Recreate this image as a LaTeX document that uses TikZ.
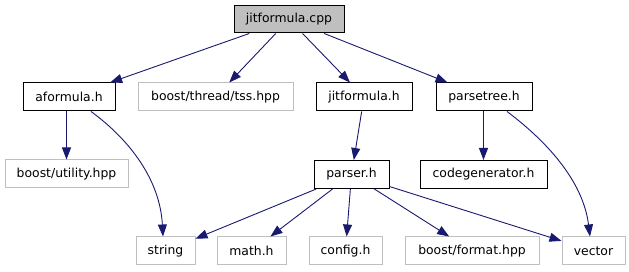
\documentclass[tikz,border=0pt]{standalone}
\usepackage{fontspec}
\setmainfont{DejaVu Sans}
\usetikzlibrary{arrows.meta}
\definecolor{edgeblue}{HTML}{191970}
\definecolor{extgray}{HTML}{BFBFBF}
\tikzset{
  filebox/.style={draw=black, line width=1pt, inner sep=0pt, minimum height=28pt,
    font=\fontsize{12.4pt}{14pt}\selectfont, anchor=center},
  rootbox/.style={filebox, fill=extgray},
  extbox/.style={filebox, draw=extgray},
  dep/.style={draw=edgeblue, line width=0.9pt, -{Triangle[length=12pt,width=9pt]}},
}
\begin{document}
\begin{tikzpicture}[x=1pt,y=-1pt]
  \useasboundingbox (0,0) rectangle (629,272);
  % files of the project
  \node[rootbox, minimum width=110pt, minimum height=27pt] (cpp) at (289,19.5) {jitformula.cpp};
  \node[filebox, minimum width=92pt] (aformula) at (69,97) {aformula.h};
  \node[extbox, minimum width=155pt] (tss) at (215.5,97) {boost/thread/tss.hpp};
  \node[filebox, minimum width=96pt] (jith) at (364,97) {jitformula.h};
  \node[filebox, minimum width=96pt] (parsetree) at (484,97) {parsetree.h};
  \node[extbox, minimum width=123pt] (utility) at (66.5,174) {boost/utility.hpp};
  \node[filebox, minimum width=75pt] (parser) at (351.5,174.5) {parser.h};
  \node[filebox, minimum width=127pt] (codegen) at (483.5,174.5) {codegenerator.h};
  \node[extbox, minimum width=59pt] (string) at (165.5,251) {string};
  \node[extbox, minimum width=69pt] (math) at (251.5,251) {math.h};
  \node[extbox, minimum width=73pt] (config) at (345.5,251) {config.h};
  \node[extbox, minimum width=134pt] (format) at (472,251) {boost/format.hpp};
  \node[extbox, minimum width=63pt] (vector) at (593.5,251) {vector};

  % include dependencies
  \draw[dep] (cpp) -- (aformula);
  \draw[dep] (cpp) -- (tss);
  \draw[dep] (cpp) -- (jith);
  \draw[dep] (cpp) -- (parsetree);
  \draw[dep] (aformula.south -| utility.north) -- (utility.north);
  \draw[dep] ([xshift=22pt]aformula.south) .. controls (130,140) and (160,180) .. ([xshift=-2.5pt]string.north);
  \draw[dep] (jith) -- (parser);
  \draw[dep] (parsetree.south -| codegen.north) -- (codegen.north);
  \draw[dep] ([xshift=23pt]parsetree.south) .. controls (545,140) and (583,180) .. ([xshift=-3.5pt]vector.north);
  \draw[dep] (parser) -- (string);
  \draw[dep] (parser) -- (math);
  \draw[dep] (parser) -- (config);
  \draw[dep] (parser) -- (format);
  \draw[dep] (parser) -- (vector);
\end{tikzpicture}
\end{document}
